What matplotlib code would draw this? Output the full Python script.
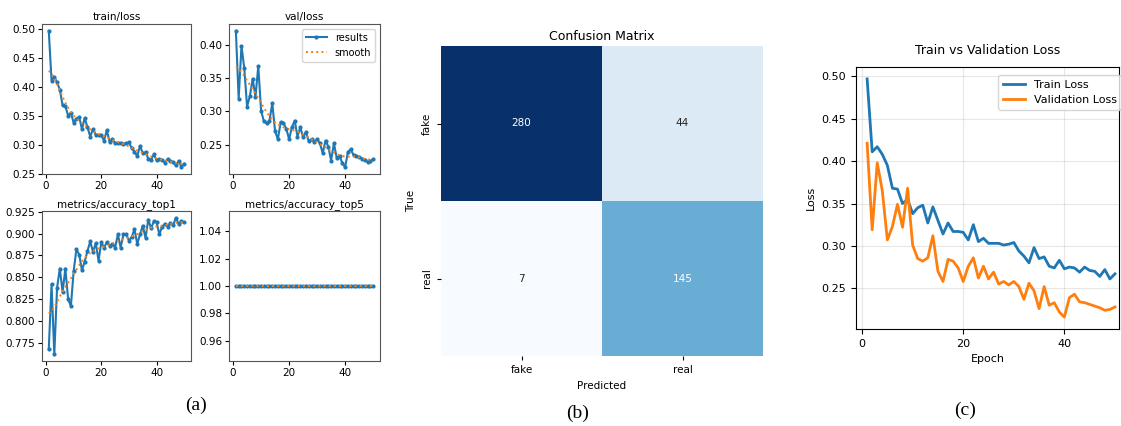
import numpy as np
import matplotlib
matplotlib.use("Agg")
import matplotlib.pyplot as plt
import seaborn as sns

# 에폭별 결과
epochs = np.arange(1, 51)

train_loss = [0.497, 0.411, 0.417, 0.408, 0.395, 0.368, 0.367, 0.350, 0.355, 0.338,
              0.345, 0.348, 0.327, 0.346, 0.330, 0.314, 0.327, 0.317, 0.317, 0.316,
              0.307, 0.325, 0.305, 0.309, 0.303, 0.303, 0.303, 0.301, 0.302, 0.304,
              0.294, 0.288, 0.280, 0.298, 0.285, 0.287, 0.276, 0.274, 0.283, 0.273,
              0.275, 0.274, 0.269, 0.275, 0.271, 0.270, 0.264, 0.272, 0.261, 0.267]

val_loss = [0.421, 0.319, 0.398, 0.365, 0.307, 0.323, 0.349, 0.322, 0.368, 0.301,
            0.285, 0.282, 0.286, 0.312, 0.270, 0.258, 0.284, 0.282, 0.274, 0.258,
            0.276, 0.286, 0.262, 0.276, 0.261, 0.269, 0.255, 0.258, 0.254, 0.258,
            0.252, 0.237, 0.256, 0.247, 0.226, 0.252, 0.230, 0.233, 0.222, 0.216,
            0.239, 0.243, 0.234, 0.233, 0.231, 0.229, 0.227, 0.224, 0.225, 0.228]

acc_top1 = [0.768, 0.842, 0.762, 0.838, 0.860, 0.833, 0.860, 0.825, 0.817, 0.857,
            0.882, 0.876, 0.858, 0.868, 0.880, 0.891, 0.879, 0.889, 0.869, 0.890,
            0.884, 0.890, 0.886, 0.888, 0.884, 0.899, 0.884, 0.899, 0.899, 0.892,
            0.896, 0.905, 0.888, 0.899, 0.909, 0.895, 0.916, 0.906, 0.914, 0.913,
            0.899, 0.908, 0.911, 0.908, 0.912, 0.910, 0.918, 0.911, 0.914, 0.913]

acc_top5 = [1.0] * 50

# 혼동 행렬
classes = ["fake", "real"]
conf_mat = [[280, 44],
            [7, 145]]


def smooth(y, sigma=3, truncate=4.0):
    # gaussian_filter1d 와 같은 방식 (reflect)
    y = np.asarray(y, dtype=float)
    r = int(truncate * sigma + 0.5)
    k = np.exp(-0.5 * (np.arange(-r, r + 1) / sigma) ** 2)
    k /= k.sum()
    yp = np.pad(y, r, mode="symmetric")
    return np.convolve(yp, k, mode="valid")


W, H = 1121, 426
fig = plt.figure(figsize=(W / 100, H / 100), dpi=100)


def box(x0, y0, x1, y1):
    return [x0 / W, 1 - y1 / H, (x1 - x0) / W, (y1 - y0) / H]


# (a) 결과 그래프 4개
small = [("train/loss", train_loss, box(42, 24, 191, 174)),
         ("val/loss", val_loss, box(229, 24, 380, 174)),
         ("metrics/accuracy_top1", acc_top1, box(42, 211, 191, 361)),
         ("metrics/accuracy_top5", acc_top5, box(229, 211, 380, 361))]

for i, (name, y, pos) in enumerate(small):
    ax = fig.add_axes(pos)
    ax.plot(epochs, y, marker=".", label="results", linewidth=1.5, markersize=4)
    ax.plot(epochs, smooth(y), ":", label="smooth", linewidth=1.4)
    ax.set_title(name, fontsize=7.5, pad=3)
    ax.tick_params(labelsize=7.5, length=3, pad=2)
    ax.set_xticks([0, 20, 40])
    for s in ax.spines.values():
        s.set_color("#555555")
    if i == 1:
        ax.legend(fontsize=7, loc="upper right", handlelength=2.2)

fig.text(196 / W, 1 - 405 / H, "(a)", family="Liberation Serif", fontsize=14,
         ha="center", va="center")

# (b) 혼동 행렬
axb = fig.add_axes(box(441, 46, 763, 356))
sns.heatmap(np.array(conf_mat), annot=True, fmt="d", cmap="Blues", cbar=False,
            xticklabels=classes, yticklabels=classes, ax=axb,
            annot_kws={"fontsize": 7.5})
axb.set_title("Confusion Matrix", fontsize=9, pad=4)
axb.set_xlabel("Predicted", fontsize=7.5)
axb.set_ylabel("True", fontsize=7.5)
axb.tick_params(labelsize=7.5, length=3)
plt.setp(axb.get_yticklabels(), rotation=90, va="center")

fig.text(578 / W, 1 - 413 / H, "(b)", family="Liberation Serif", fontsize=14,
         ha="center", va="center")

# (c) 학습/검증 손실
axc = fig.add_axes(box(856, 67, 1119, 329))
axc.plot(epochs, train_loss, label="Train Loss", linewidth=2)
axc.plot(epochs, val_loss, label="Validation Loss", linewidth=2)
axc.set_title("Train vs Validation Loss", fontsize=9, pad=9)
axc.set_xlabel("Epoch", fontsize=8)
axc.set_ylabel("Loss", fontsize=8)
axc.tick_params(labelsize=8)
axc.set_xticks([0, 20, 40])
axc.set_yticks([0.25, 0.30, 0.35, 0.40, 0.45, 0.50])
axc.set_xlim(-1.2, 50.8)
axc.grid(True, alpha=0.3)
axc.legend(fontsize=8, loc="upper right", bbox_to_anchor=(1.03, 0.99))

fig.text(965 / W, 1 - 410 / H, "(c)", family="Liberation Serif", fontsize=14,
         ha="center", va="center")

fig.savefig("out.png", dpi=100)
